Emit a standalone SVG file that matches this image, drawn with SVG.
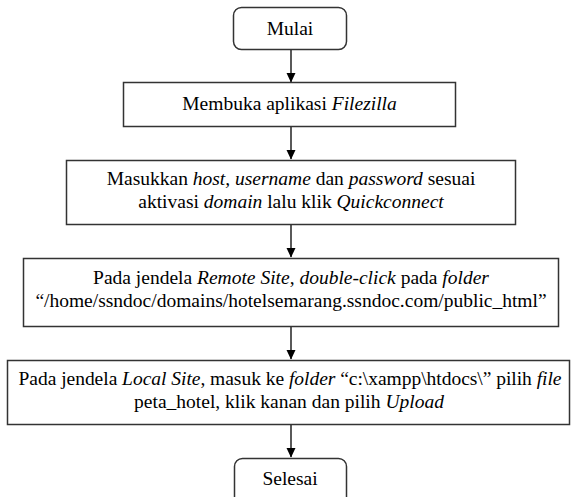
<svg xmlns="http://www.w3.org/2000/svg" width="571" height="497" viewBox="0 0 571 497">
<style>
.box{fill:#fff;stroke:#333;stroke-width:1.5}
.t{font-family:'Liberation Serif','Times New Roman',serif;font-size:19.5px;fill:#000;text-anchor:middle}
.i{font-style:italic}
.c{stroke:#000;stroke-width:1.3;fill:none}
</style>
<defs>
<marker id="ah" markerWidth="10" markerHeight="10" refX="9" refY="5" orient="auto" markerUnits="userSpaceOnUse">
<path d="M0,0.5 L9.5,5 L0,9.5 Z" fill="#000"/>
</marker>
</defs>
<rect width="571" height="497" fill="#fff"/>
<g id="connectors">
<line class="c" x1="291" y1="49" x2="291" y2="82" marker-end="url(#ah)"/>
<line class="c" x1="291" y1="127" x2="291" y2="159" marker-end="url(#ah)"/>
<line class="c" x1="291" y1="225" x2="291" y2="257" marker-end="url(#ah)"/>
<line class="c" x1="291" y1="327" x2="291" y2="359" marker-end="url(#ah)"/>
<line class="c" x1="291" y1="425" x2="291" y2="457" marker-end="url(#ah)"/>
</g>
<g id="mulai">
<rect class="box" x="233.5" y="7.5" width="113" height="42" rx="8"/>
<text class="t" x="290" y="35">Mulai</text>
</g>
<g id="membuka">
<rect class="box" x="123.5" y="82.5" width="332" height="44"/>
<text class="t" x="289.5" y="110">Membuka aplikasi <tspan class="i">Filezilla</tspan></text>
</g>
<g id="masukkan">
<rect class="box" x="66.5" y="160.5" width="449" height="64"/>
<text class="t" x="291" y="185">Masukkan <tspan class="i">host, username</tspan> dan <tspan class="i">password</tspan> sesuai</text>
<text class="t" x="291" y="208">aktivasi <tspan class="i">domain</tspan> lalu klik <tspan class="i">Quickconnect</tspan></text>
</g>
<g id="remote">
<rect class="box" x="23.5" y="258.5" width="535" height="68"/>
<text class="t" x="291" y="284">Pada jendela <tspan class="i">Remote Site</tspan>, <tspan class="i">double-click</tspan> pada <tspan class="i">folder</tspan></text>
<text class="t" x="291" y="307">“/home/ssndoc/domains/hotelsemarang.ssndoc.com/public_html”</text>
</g>
<g id="local">
<rect class="box" x="7.5" y="360.5" width="562" height="64"/>
<text class="t" x="290" y="385" textLength="543" lengthAdjust="spacing">Pada jendela <tspan class="i">Local Site</tspan>, masuk ke <tspan class="i">folder</tspan> “c:\xampp\htdocs\” pilih <tspan class="i">file</tspan></text>
<text class="t" x="289" y="408">peta_hotel, klik kanan dan pilih <tspan class="i">Upload</tspan></text>
</g>
<g id="selesai">
<rect class="box" x="234.5" y="458.5" width="112" height="50" rx="8"/>
<text class="t" x="290" y="485">Selesai</text>
</g>
</svg>
